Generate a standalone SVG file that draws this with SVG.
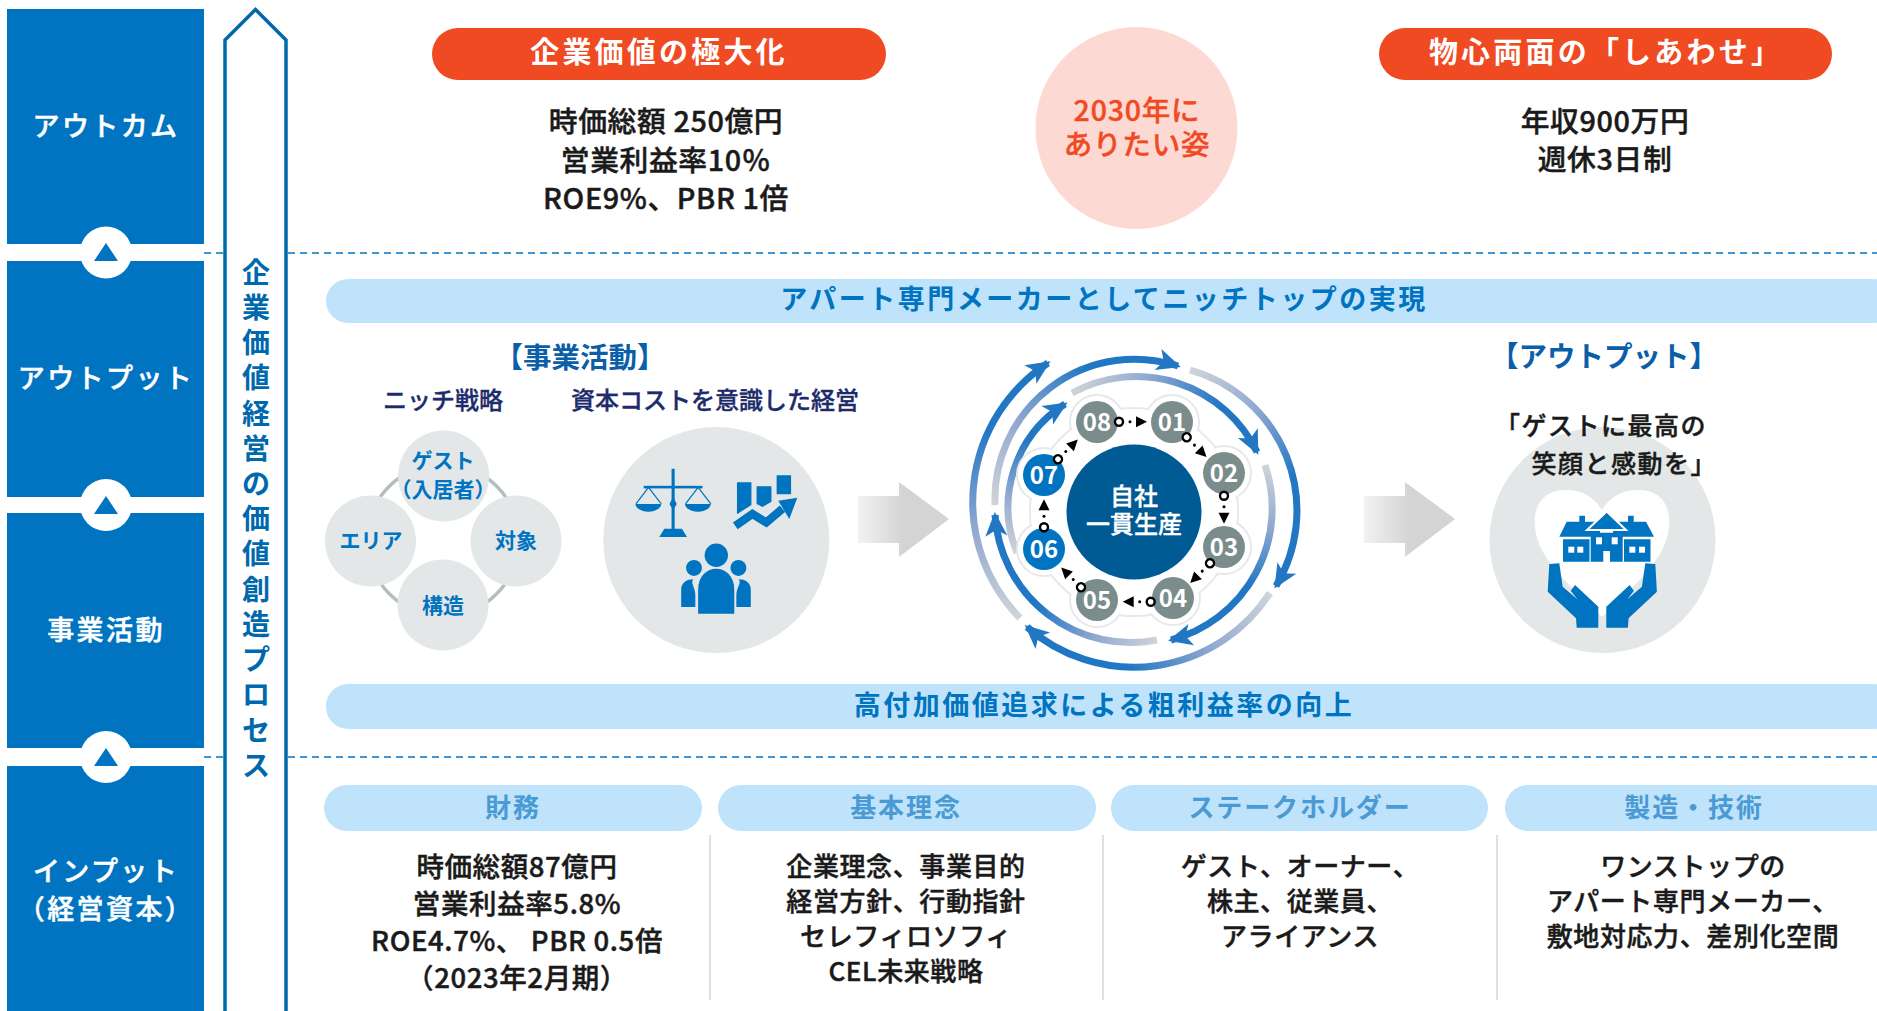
<svg xmlns="http://www.w3.org/2000/svg" xmlns:xlink="http://www.w3.org/1999/xlink" width="1877" height="1011" viewBox="0 0 1877 1011">
<style>
text{font-family:"Noto Sans CJK JP","Noto Sans",sans-serif;text-anchor:middle;dominant-baseline:central;transform:translateY(-2px)}
.side{fill:#fff;stroke:#fff;stroke-width:.5px;font-size:27px;font-weight:500;letter-spacing:2.400px}
.rowb{fill:#0074c1}
.pill{fill:#fff;font-size:29px;font-weight:700;letter-spacing:3.200px}
.body{fill:#1a1a1a;stroke:#1a1a1a;stroke-width:.45px;font-size:26px;font-weight:500;letter-spacing:.6px}
.big{font-size:28.800px}
.col1{font-size:27.500px}
.band{fill:#0074c1;font-size:27px;font-weight:700;letter-spacing:2.500px}
.navy{fill:#1d2b6b;stroke:#1d2b6b;stroke-width:.35px;font-size:24px;font-weight:500}
.acc{fill:#0a5fa8;font-size:28.500px;font-weight:700}
.hdr{fill:#4a9ad4;font-size:26px;font-weight:700;letter-spacing:1.900px}
.sm{fill:#0074c1;font-size:21px;font-weight:700}
.num{fill:#fff;font-size:24px;font-weight:700}
.vis{fill:#f04a23;stroke:#f04a23;stroke-width:.4px;font-size:28.500px;font-weight:500;letter-spacing:.8px}
.msg{text-anchor:end;fill:#1a1a1a;stroke:#1a1a1a;stroke-width:.45px;font-size:25px;font-weight:500;letter-spacing:1.500px}
.core{fill:#fff;stroke:#fff;stroke-width:.35px;font-size:24px;font-weight:500}
.dash{stroke:#0074c1;stroke-width:1.5;stroke-dasharray:7 5;fill:none}
.div{stroke:#e0e0e0;stroke-width:2}
.lb{fill:#bfe3fb}
.gc{fill:#e3e7e8}
.ic{fill:#0074c1}
.arc{fill:none;stroke-width:7}
.n{fill:#7b8c8c}
.nb{fill:#0074c1}
</style>
<defs>
<marker id="ah" markerUnits="userSpaceOnUse" markerWidth="26" markerHeight="26" refX="22" refY="13" orient="auto"><path d="M1 2L25 13L1 24L7 13Z" fill="#2277c4"/></marker>
<linearGradient id="ga" gradientUnits="userSpaceOnUse" x1="1020" y1="618" x2="1000" y2="430"><stop offset="0" stop-color="#d0d4d8"/><stop offset=".5" stop-color="#8fa8d0"/><stop offset="1" stop-color="#2277c4"/></linearGradient>
<linearGradient id="gb" gradientUnits="userSpaceOnUse" x1="995" y1="505" x2="1090" y2="370"><stop offset="0" stop-color="#d0d4d8"/><stop offset=".5" stop-color="#8fa8d0"/><stop offset="1" stop-color="#2277c4"/></linearGradient>
<linearGradient id="gc" gradientUnits="userSpaceOnUse" x1="1072" y1="393" x2="1220" y2="410"><stop offset="0" stop-color="#d0d4d8"/><stop offset=".5" stop-color="#8fa8d0"/><stop offset="1" stop-color="#2277c4"/></linearGradient>
<linearGradient id="gd" gradientUnits="userSpaceOnUse" x1="1190" y1="370" x2="1290" y2="480"><stop offset="0" stop-color="#d0d4d8"/><stop offset=".5" stop-color="#8fa8d0"/><stop offset="1" stop-color="#2277c4"/></linearGradient>
<linearGradient id="ge" gradientUnits="userSpaceOnUse" x1="1265" y1="465" x2="1245" y2="585"><stop offset="0" stop-color="#d0d4d8"/><stop offset=".5" stop-color="#8fa8d0"/><stop offset="1" stop-color="#2277c4"/></linearGradient>
<linearGradient id="gf" gradientUnits="userSpaceOnUse" x1="1270" y1="593" x2="1130" y2="668"><stop offset="0" stop-color="#d0d4d8"/><stop offset=".5" stop-color="#8fa8d0"/><stop offset="1" stop-color="#2277c4"/></linearGradient>
<linearGradient id="gg" gradientUnits="userSpaceOnUse" x1="1157" y1="640" x2="1040" y2="606"><stop offset="0" stop-color="#d0d4d8"/><stop offset=".5" stop-color="#8fa8d0"/><stop offset="1" stop-color="#2277c4"/></linearGradient>
<linearGradient id="gh" gradientUnits="userSpaceOnUse" x1="1017" y1="553" x2="1035" y2="440"><stop offset="0" stop-color="#d0d4d8"/><stop offset=".5" stop-color="#8fa8d0"/><stop offset="1" stop-color="#2277c4"/></linearGradient>
<linearGradient id="ga1" x1="0" x2="1" y1="0" y2="0"><stop offset="0" stop-color="#f2f2f2"/><stop offset=".5" stop-color="#d4d4d4"/><stop offset="1" stop-color="#d4d4d4"/></linearGradient>
<g id="lnk"><circle r="4" fill="#fff" stroke="#000" stroke-width="2.400"/><circle cx="11" r="1.500" fill="#000"/><path d="M17 -5.500L28 0L17 5.500Z" fill="#000"/></g>
<path id="gar" d="M0 14H41V0L91 37L41 75V61H0Z" fill="url(#ga1)"/>
</defs>

<g id="side-bars">
<rect class="rowb" x="7" y="9" width="197" height="235"/>
<rect class="rowb" x="7" y="261" width="197" height="236"/>
<rect class="rowb" x="7" y="513" width="197" height="235"/>
<rect class="rowb" x="7" y="766" width="197" height="245"/>
</g>
<g id="dashes">
<path class="dash" d="M204 253H1877M204 757H1877"/>
</g>
<g id="step-up-1"><circle cx="106" cy="252.500" r="26" fill="#fff"/><path class="ic" d="M94 261L106 243L118 261Z"/></g>
<g id="step-up-2"><circle cx="106" cy="505" r="26" fill="#fff"/><path class="ic" d="M94 514L106 496L118 514Z"/></g>
<g id="step-up-3"><circle cx="106" cy="757" r="26" fill="#fff"/><path class="ic" d="M94 766L106 748L118 766Z"/></g>
<g id="side-labels">
<text class="side" x="106" y="126">アウトカム</text>
<text class="side" x="106" y="378">アウトプット</text>
<text class="side" x="106" y="630">事業活動</text>
<text class="side" x="106" y="871">インプット</text>
<text class="side" x="106" y="909">（経営資本）</text>
</g>
<g id="process-arrow">
<path d="M225 1011V40L255.500 9.500L286 40V1011" fill="#fff" stroke="#0068ad" stroke-width="3.500"/>
<text style="fill:#0068ad;font-size:28px;font-weight:700"><tspan x="256" y="273">企</tspan><tspan x="256" y="308">業</tspan><tspan x="256" y="343">価</tspan><tspan x="256" y="378">値</tspan><tspan x="256" y="414">経</tspan><tspan x="256" y="449">営</tspan><tspan x="256" y="484">の</tspan><tspan x="256" y="519">価</tspan><tspan x="256" y="554">値</tspan><tspan x="256" y="590">創</tspan><tspan x="256" y="625">造</tspan><tspan x="256" y="660">プ</tspan><tspan x="256" y="695">ロ</tspan><tspan x="256" y="731">セ</tspan><tspan x="256" y="766">ス</tspan></text>
</g>

<g id="outcome-left"><rect x="432" y="28" width="454" height="52" rx="26" fill="#f04a23"/><text class="pill" x="659" y="52">企業価値の極大化</text>
<text class="body big" x="666" y="121">時価総額 250億円</text><text class="body big" x="666" y="160">営業利益率10％</text><text class="body big" x="666" y="198">ROE9%、PBR 1倍</text></g>
<g id="outcome-right"><rect x="1379" y="28" width="453" height="52" rx="26" fill="#f04a23"/><text class="pill" x="1606" y="52">物心両面の「しあわせ」</text>
<text class="body big" x="1605" y="121">年収900万円</text><text class="body big" x="1605" y="159">週休3日制</text></g>
<g id="vision"><circle cx="1136.500" cy="128" r="101" fill="#fdd9d3"/><text class="vis" x="1137" y="110">2030年に</text><text class="vis" x="1137" y="144">ありたい姿</text></g>

<g id="band-top"><rect class="lb" x="326" y="279" width="1570" height="44" rx="22"/><text class="band" x="1104" y="299">アパート専門メーカーとしてニッチトップの実現</text></g>
<g id="band-bottom"><rect class="lb" x="326" y="684" width="1570" height="45" rx="22"/><text class="band" x="1104" y="705">高付加価値追求による粗利益率の向上</text></g>

<g id="activity-labels">
<text class="acc" x="580" y="357">【事業活動】</text>
<text class="navy" x="443" y="400">ニッチ戦略</text>
<text class="navy" x="715" y="400">資本コストを意識した経営</text>
<text class="acc" x="1604" y="356">【アウトプット】</text>
</g>

<g id="niche">
<circle cx="443" cy="540" r="76" fill="none" stroke="#b4bfbd" stroke-width="3.500"/>
<circle class="gc" cx="443.600" cy="476" r="45.500"/><circle class="gc" cx="370.500" cy="541" r="45.500"/><circle class="gc" cx="516" cy="541" r="45.500"/><circle class="gc" cx="443" cy="605" r="45.500"/>
<text class="sm" x="443" y="461">ゲスト</text><text class="sm" x="443" y="490">（入居者）</text>
<text class="sm" x="371" y="541">エリア</text><text class="sm" x="516" y="541">対象</text><text class="sm" x="443" y="606">構造</text>
</g>

<g id="capital">
<circle class="gc" cx="716.300" cy="540" r="113"/>
<g class="ic" transform="translate(716.300 538) scale(1.033) translate(-703.300 -540)">
<rect x="660" y="473" width="3" height="60"/><rect x="633" y="489.500" width="57" height="2.500"/>
<path d="M661.500 500L665 507L661.500 513L658 507Z"/>
<path d="M648 539L653 531H670L675 539Z"/>
<path d="M625 507H650C649 517 626 517 625 507ZM673 507H698C697 517 674 517 673 507Z"/>
<path d="M637.700 491L625.500 507M637.700 491L650 507M685.700 491L673.500 507M685.700 491L698 507" stroke="#0074c1" stroke-width="1.200" fill="none"/>
<path d="M723.300 486H737.300V508L723.300 517ZM742.300 490H756.700V505L748 510L742.300 507ZM761.700 479.300H775.700V497.700H761.700Z"/>
<path d="M721.700 528.300L738.300 516.700L751.700 525L767.300 511.700" fill="none" stroke="#0074c1" stroke-width="8"/>
<path d="M763.300 504L781.700 501L774 521.700Z"/>
<circle cx="703.300" cy="556.700" r="11.300"/><circle cx="681.700" cy="569" r="7.700"/><circle cx="724.700" cy="569" r="7.700"/>
<path d="M685.700 613.300V590C685.700 563 720.700 563 720.700 590V613.300Z"/>
<path d="M669.300 606.700V590C669.300 583 675 580 681 580C678 584 683 588 683 595V606.700ZM736.700 606.700V590C736.700 583 731 580 725 580C728 584 722.700 588 722.700 595V606.700Z"/>
</g>
</g>

<g id="arrow-left"><use xlink:href="#gar" href="#gar" x="858" y="482"/></g>
<g id="arrow-right"><use xlink:href="#gar" href="#gar" x="1364" y="482"/></g>

<g id="cycle-arcs">
<path class="arc" stroke="url(#ga)" marker-end="url(#ah)" d="M1020 618A166 166 0 0 1 1048 363"/>
<path class="arc" stroke="url(#gb)" marker-end="url(#ah)" d="M995 505A140 140 0 0 1 1178 366"/>
<path class="arc" stroke="url(#gc)" marker-end="url(#ah)" d="M1072 393A134 134 0 0 1 1257 452"/>
<path class="arc" stroke="url(#gd)" marker-end="url(#ah)" d="M1190 370A146 146 0 0 1 1276 586"/>
<path class="arc" stroke="url(#ge)" marker-end="url(#ah)" d="M1265 465A136 136 0 0 1 1171 640"/>
<path class="arc" stroke="url(#gf)" marker-end="url(#ah)" d="M1270 593A162 162 0 0 1 1027 627"/>
<path class="arc" stroke="url(#gg)" marker-end="url(#ah)" d="M1157 640A136 136 0 0 1 995 515"/>
<path class="arc" stroke="url(#gh)" marker-end="url(#ah)" d="M1017 553A122 122 0 0 1 1065 404"/>
</g>

<g id="cycle-halo">
<circle cx="1134" cy="512" r="104" fill="#fff" stroke="#e8e8e8" stroke-width="2"/>
<g fill="#fff" stroke="#e8e8e8" stroke-width="2"><circle cx="1097" cy="422" r="27"/><circle cx="1172" cy="422" r="27"/><circle cx="1224" cy="473" r="27"/><circle cx="1224" cy="547" r="27"/><circle cx="1173" cy="598" r="27"/><circle cx="1097" cy="600" r="27"/><circle cx="1044" cy="549" r="27"/><circle cx="1044" cy="475" r="27"/></g>
<circle cx="1134" cy="512" r="103" fill="#fff"/>
</g>
<g id="core"><circle cx="1134" cy="512" r="67.500" fill="#005a94"/><text class="core" x="1134" y="496">自社</text><text class="core" x="1134" y="524">一貫生産</text></g>
<g id="node-01"><circle class="n" cx="1172" cy="422" r="21"/><text class="num" x="1172" y="422">01</text></g>
<g id="node-02"><circle class="n" cx="1224" cy="473" r="21"/><text class="num" x="1224" y="473">02</text></g>
<g id="node-03"><circle class="n" cx="1224" cy="547" r="21"/><text class="num" x="1224" y="547">03</text></g>
<g id="node-04"><circle class="n" cx="1173" cy="598" r="21"/><text class="num" x="1173" y="598">04</text></g>
<g id="node-05"><circle class="n" cx="1097" cy="600" r="21"/><text class="num" x="1097" y="600">05</text></g>
<g id="node-06"><circle class="nb" cx="1044" cy="549" r="21"/><text class="num" x="1044" y="549">06</text></g>
<g id="node-07"><circle class="nb" cx="1044" cy="475" r="21"/><text class="num" x="1044" y="475">07</text></g>
<g id="node-08"><circle class="n" cx="1097" cy="422" r="21"/><text class="num" x="1097" y="422">08</text></g>
<g id="connectors">
<use xlink:href="#lnk" href="#lnk" transform="translate(1119 421.700)"/>
<use xlink:href="#lnk" href="#lnk" transform="translate(1186.700 437.300) rotate(45)"/>
<use xlink:href="#lnk" href="#lnk" transform="translate(1224 495.700) rotate(90)"/>
<use xlink:href="#lnk" href="#lnk" transform="translate(1210 563.300) rotate(135)"/>
<use xlink:href="#lnk" href="#lnk" transform="translate(1150.700 601.700) rotate(180)"/>
<use xlink:href="#lnk" href="#lnk" transform="translate(1081 587.300) rotate(225)"/>
<use xlink:href="#lnk" href="#lnk" transform="translate(1044 527.300) rotate(270)"/>
<use xlink:href="#lnk" href="#lnk" transform="translate(1058 459.300) rotate(-45)"/>
</g>

<g id="output">
<circle class="gc" cx="1602.500" cy="540" r="113"/>
<path d="M1602 510C1590 490 1570 488 1556 491C1540 495 1533 510 1535 527C1537 560 1575 590 1602 617C1629 590 1667 560 1669 527C1671 510 1664 495 1648 491C1634 488 1614 490 1602 510Z" fill="#fff"/>
<g class="ic">
<path d="M1559.300 536.700L1566.700 521.700H1579.300V515.700H1585V521.700H1600V536.700ZM1613 536.700V521.700H1628V515.700H1633.700V521.700H1646L1654 536.700Z"/>
<path d="M1563 539.300H1589.500V561.700H1563ZM1624 539.300H1650.500V561.700H1624Z"/>
<path d="M1606.700 511.500L1587 530H1626Z" stroke="#fff" stroke-width="2"/>
<path d="M1590.700 532.700H1622.700V561.700H1610V551H1603.300V561.700H1590.700Z"/>
</g>
<g fill="#fff"><rect x="1596" y="537.300" width="6" height="7"/><rect x="1611.700" y="537.300" width="6" height="7"/><rect x="1568.300" y="546.700" width="6" height="6"/><rect x="1577.300" y="546.700" width="6" height="6"/><rect x="1629.300" y="546.700" width="6" height="6"/><rect x="1639" y="546.700" width="6" height="6"/></g>
<path class="ic" d="M1549.300 564L1559.300 563.300L1562.700 586.700L1577.300 599.300L1570.700 590.700L1575 585L1598.300 606.700V627.700H1576.700L1576 618.300L1547.700 591.700Z"/>
<path class="ic" transform="translate(3204.600 0) scale(-1 1)" d="M1549.300 564L1559.300 563.300L1562.700 586.700L1577.300 599.300L1570.700 590.700L1575 585L1598.300 606.700V627.700H1576.700L1576 618.300L1547.700 591.700Z"/>
<text class="msg" x="1707" y="426">「ゲストに最高の</text>
<text class="msg" x="1717" y="464">笑顔と感動を」</text>
</g>

<g id="input-finance"><rect class="lb" x="324" y="785" width="378" height="46" rx="23"/><text class="hdr" x="513" y="807">財務</text>
<text class="body col1" x="517" y="867">時価総額87億円</text><text class="body col1" x="517" y="904">営業利益率5.8%</text><text class="body col1" x="517" y="941">ROE4.7%、 PBR 0.5倍</text><text class="body col1" x="517" y="978">（2023年2月期）</text></g>
<g id="input-philosophy"><rect class="lb" x="718" y="785" width="378" height="46" rx="23"/><text class="hdr" x="906" y="807">基本理念</text>
<text class="body" x="906" y="866">企業理念、事業目的</text><text class="body" x="906" y="901">経営方針、行動指針</text><text class="body" x="906" y="936">セレフィロソフィ</text><text class="body" x="906" y="971">CEL未来戦略</text></g>
<g id="input-stakeholder"><rect class="lb" x="1111" y="785" width="377" height="46" rx="23"/><text class="hdr" x="1300" y="807">ステークホルダー</text>
<text class="body" x="1300" y="866">ゲスト、オーナー、</text><text class="body" x="1300" y="901">株主、従業員、</text><text class="body" x="1300" y="936">アライアンス</text></g>
<g id="input-tech"><rect class="lb" x="1505" y="785" width="392" height="46" rx="23"/><text class="hdr" x="1694" y="807">製造・技術</text>
<text class="body" x="1693" y="866">ワンストップの</text><text class="body" x="1693" y="901">アパート専門メーカー、</text><text class="body" x="1693" y="936">敷地対応力、差別化空間</text></g>
<path class="div" d="M710 835V1000M1103 835V1000M1497 835V1000"/>
</svg>
